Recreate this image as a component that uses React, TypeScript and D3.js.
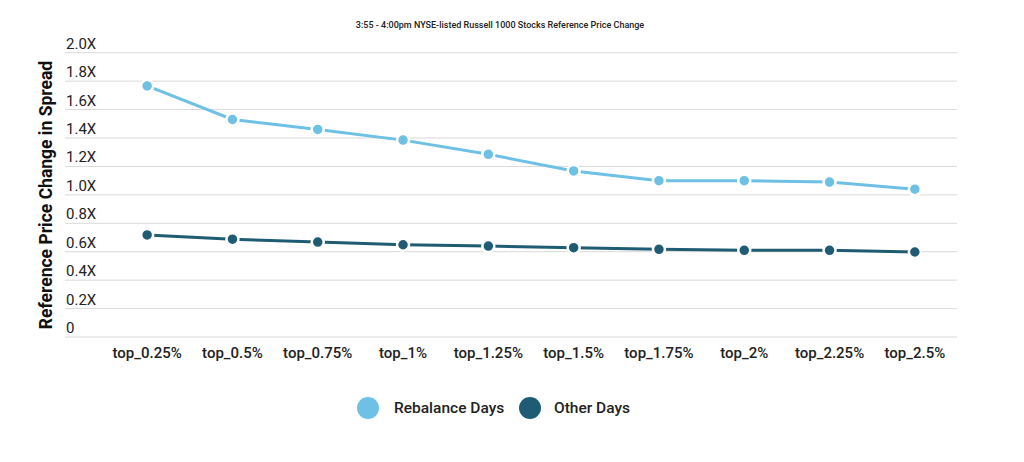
import { useEffect, useRef } from "react";
import * as d3 from "d3";

const categories = [
  "top_0.25%", "top_0.5%", "top_0.75%", "top_1%", "top_1.25%",
  "top_1.5%", "top_1.75%", "top_2%", "top_2.25%", "top_2.5%",
];
const rebalanceDays = [1.766, 1.53, 1.46, 1.385, 1.285, 1.168, 1.1, 1.1, 1.09, 1.04];
const otherDays = [0.718, 0.688, 0.668, 0.649, 0.64, 0.628, 0.617, 0.61, 0.61, 0.598];
const yTicks = [0, 0.2, 0.4, 0.6, 0.8, 1.0, 1.2, 1.4, 1.6, 1.8, 2.0];
const seriesNames = ["Rebalance Days", "Other Days"];
const seriesColors = ["#6ec1e4", "#1f5c73"];

export default function App() {
  const ref = useRef<SVGSVGElement>(null);

  useEffect(() => {
    if (!ref.current) return;
    const svg = d3.select(ref.current);
    svg.selectAll("*").remove();

    const width = 1024;
    const height = 462;
    const font = "Roboto, 'Noto Sans', sans-serif";

    svg.append("rect").attr("width", width).attr("height", height).attr("fill", "#fff");

    const x = d3.scaleBand<string>().domain(categories).range([104.5, 957.5]);
    const y = d3.scaleLinear().domain([0, 2]).range([337, 52.7]);
    const gridLeft = 65;
    const gridRight = 957;

    // title
    svg.append("text")
      .attr("x", 500)
      .attr("y", 28)
      .attr("text-anchor", "middle")
      .style("font-family", font)
      .style("font-size", "9px")
      .style("font-weight", "500")
      .style("fill", "#222")
      .text("3:55 - 4:00pm NYSE-listed Russell 1000 Stocks Reference Price Change");

    // grid + y labels
    const yg = svg.append("g");
    yg.selectAll("line")
      .data(yTicks)
      .join("line")
      .attr("x1", gridLeft)
      .attr("x2", gridRight)
      .attr("y1", (d) => y(d))
      .attr("y2", (d) => y(d))
      .attr("stroke", "#d9d9d9")
      .attr("stroke-width", 1);
    yg.selectAll("text")
      .data(yTicks)
      .join("text")
      .attr("x", 66)
      .attr("y", (d) => y(d) - 4)
      .style("font-family", font)
      .style("font-size", "15px")
      .style("fill", "#222")
      .text((d) => (d === 0 ? "0" : `${d.toFixed(1)}X`));

    // y axis title
    svg.append("text")
      .attr("transform", `translate(52,${195}) rotate(-90)`)
      .attr("text-anchor", "middle")
      .style("font-family", font)
      .style("font-size", "17.5px")
      .style("font-weight", "700")
      .style("fill", "#111")
      .text("Reference Price Change in Spread");

    // x labels
    svg.append("g")
      .selectAll("text")
      .data(categories)
      .join("text")
      .attr("x", (d) => x(d)! + x.bandwidth() / 2)
      .attr("y", 358)
      .attr("text-anchor", "middle")
      .style("font-family", font)
      .style("font-size", "15px")
      .style("font-weight", "500")
      .style("fill", "#222")
      .text((d) => d);

    const series = [rebalanceDays, otherDays];
    const line = d3.line<number>()
      .x((_, i) => x(categories[i])! + x.bandwidth() / 2)
      .y((d) => y(d));

    series.forEach((values, si) => {
      const g = svg.append("g");
      g.append("path")
        .datum(values)
        .attr("d", line)
        .attr("fill", "none")
        .attr("stroke", seriesColors[si])
        .attr("stroke-width", 3);
      g.selectAll("circle")
        .data(values)
        .join("circle")
        .attr("cx", (_, i) => x(categories[i])! + x.bandwidth() / 2)
        .attr("cy", (d) => y(d))
        .attr("r", 6)
        .attr("fill", seriesColors[si])
        .attr("stroke", "#fff")
        .attr("stroke-width", 2.5);
    });

    // legend
    const legendItems = [
      { cx: 368, tx: 394 },
      { cx: 530, tx: 554 },
    ];
    seriesNames.forEach((name, i) => {
      svg.append("circle")
        .attr("cx", legendItems[i].cx)
        .attr("cy", 408)
        .attr("r", 11)
        .attr("fill", seriesColors[i]);
      svg.append("text")
        .attr("x", legendItems[i].tx)
        .attr("y", 413)
        .style("font-family", font)
        .style("font-size", "15.5px")
        .style("font-weight", "500")
        .style("fill", "#222")
        .text(name);
    });
  }, []);

  return (
    <svg
      ref={ref}
      width={1024}
      height={462}
      style={{ position: "absolute", left: 0, top: 0 }}
    />
  );
}
